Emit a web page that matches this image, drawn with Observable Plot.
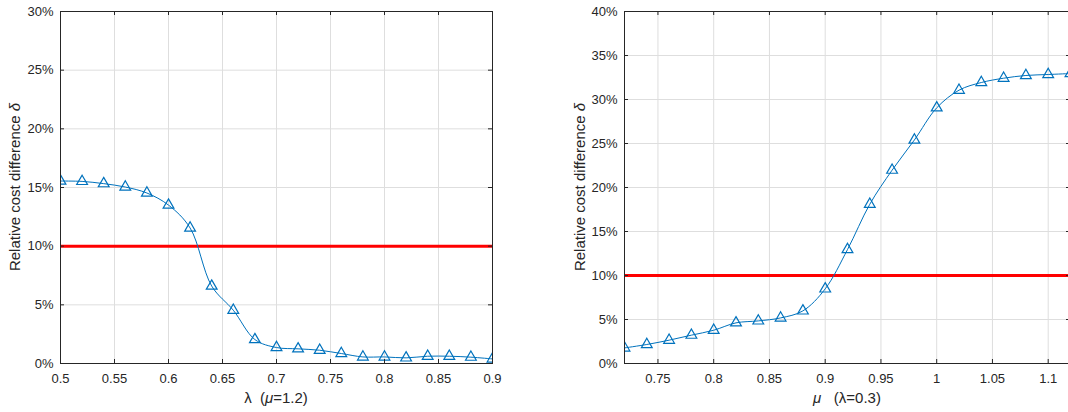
<!DOCTYPE html>
<html><head><meta charset="utf-8">
<script src="https://cdn.jsdelivr.net/npm/d3@7"></script>
<script src="https://cdn.jsdelivr.net/npm/@observablehq/plot@0.6"></script>
<style>
html,body{margin:0;padding:0;background:#fff;}
#wrap{width:1068px;height:412px;overflow:hidden;display:flex;}
#wrap svg{display:block;flex:none;}
</style></head><body><div id="wrap"></div>
<script>
// Left panel: δ vs λ (μ=1.2)
const lambdaX = [0.5,0.52,0.54,0.56,0.58,0.6,0.62,0.64,0.66,0.68,0.7,0.72,0.74,0.76,0.78,0.8,0.82,0.84,0.86,0.88,0.9];
const lambdaDelta = [15.55,15.52,15.33,15.04,14.53,13.5,11.55,6.6,4.54,2.04,1.36,1.25,1.13,0.85,0.56,0.56,0.48,0.62,0.62,0.54,0.39];
// Right panel: δ vs μ (λ=0.3)
const muX = [0.72,0.74,0.76,0.78,0.8,0.82,0.84,0.86,0.88,0.9,0.92,0.94,0.96,0.98,1.0,1.02,1.04,1.06,1.08,1.1,1.12];
const muDelta = [1.77,2.16,2.65,3.22,3.78,4.62,4.84,5.18,5.98,8.48,12.95,18.1,21.97,25.4,29.05,31.06,31.93,32.42,32.73,32.84,32.95];
const threshold = 10;
const leftXTicks = [0.5,0.55,0.6,0.65,0.7,0.75,0.8,0.85,0.9];
const leftYTicks = [0,5,10,15,20,25,30];
const rightXTicks = [0.75,0.8,0.85,0.9,0.95,1,1.05,1.1];
const rightYTicks = [0,5,10,15,20,25,30,35,40];

const FONT = "'Liberation Sans', Arial, Helvetica, sans-serif";
const INK = "#262626";
const BLUE = "#0072bd";

function panel(cfg) {
  const data = cfg.xs.map((x, i) => ({x, y: cfg.ys[i]}));
  const H = 412, mt = 11, mb = 49;
  const ph = H - mt - mb;
  const pw = cfg.width - cfg.marginLeft - cfg.marginRight;
  const fmtX = d => String(+d.toFixed(2));
  const svg = Plot.plot({
    width: cfg.width, height: H,
    marginLeft: cfg.marginLeft, marginRight: cfg.marginRight, marginTop: mt, marginBottom: mb,
    style: {fontFamily: FONT, fontSize: "13px", color: INK, background: "#fff"},
    x: {domain: cfg.xDomain},
    y: {domain: cfg.yDomain},
    marks: [
      Plot.gridX(cfg.xTicks, {stroke: "#dedede", strokeOpacity: 1}),
      Plot.gridY(cfg.yTicks, {stroke: "#dedede", strokeOpacity: 1}),
      Plot.ruleY([threshold], {stroke: "#ff0000", strokeWidth: 3}),
      Plot.line(data, {x: "x", y: "y", stroke: BLUE, strokeWidth: 1, curve: "catmull-rom", clip: true}),
      Plot.dot(data, {x: "x", y: "y", symbol: "triangle", r: 4, stroke: BLUE, strokeWidth: 1.2, fill: "none", clip: true}),
      Plot.tickX(cfg.xTicks, {stroke: INK, insetTop: ph - 4}),
      Plot.tickX(cfg.xTicks, {stroke: INK, insetBottom: ph - 4}),
      Plot.tickY(cfg.yTicks, {stroke: INK, insetRight: pw - 4}),
      Plot.tickY(cfg.yTicks, {stroke: INK, insetLeft: pw - 4}),
      Plot.frame({stroke: INK, strokeWidth: 1}),
      Plot.axisX(cfg.xTicks, {tickSize: 0, tickPadding: 10, tickFormat: fmtX, label: null}),
      Plot.axisY(cfg.yTicks, {tickSize: 0, tickPadding: 7, tickFormat: d => d + "%", label: null})
    ]
  });
  const s = d3.select(svg);
  const xt = s.append("text")
    .attr("x", cfg.marginLeft + pw / 2).attr("y", 398).attr("dy", "0.35em")
    .attr("text-anchor", "middle").attr("font-size", 15).attr("fill", INK)
    .attr("font-family", FONT).style("white-space", "pre");
  cfg.xLabel.forEach(([t, it]) => xt.append("tspan").text(t).attr("font-style", it ? "italic" : null));
  const yt = s.append("text")
    .attr("transform", `translate(${cfg.yLabelX},${mt + ph / 2}) rotate(-90)`)
    .attr("dy", "0.35em").attr("text-anchor", "middle").attr("font-size", 15)
    .attr("fill", INK).attr("font-family", FONT).style("white-space", "pre");
  cfg.yLabel.forEach(([t, it]) => yt.append("tspan").text(t).attr("font-style", it ? "italic" : null));
  return svg;
}

const wrap = document.getElementById("wrap");
wrap.appendChild(panel({
  xs: lambdaX, ys: lambdaDelta, xDomain: [0.5, 0.9], yDomain: [0, 30],
  xTicks: leftXTicks, yTicks: leftYTicks,
  width: 534, marginLeft: 60, marginRight: 42, yLabelX: 15,
  xLabel: [["λ  ("], ["μ", true], ["=1.2)"]],
  yLabel: [["Relative cost difference "], ["δ", true]]
}));
wrap.appendChild(panel({
  xs: muX, ys: muDelta, xDomain: [0.72, 1.12], yDomain: [0, 40],
  xTicks: rightXTicks, yTicks: rightYTicks,
  width: 536, marginLeft: 90, marginRight: 0, yLabelX: 46,
  xLabel: [["μ", true], ["   (λ=0.3)"]],
  yLabel: [["Relative cost difference "], ["δ", true]]
}));
</script></body></html>
